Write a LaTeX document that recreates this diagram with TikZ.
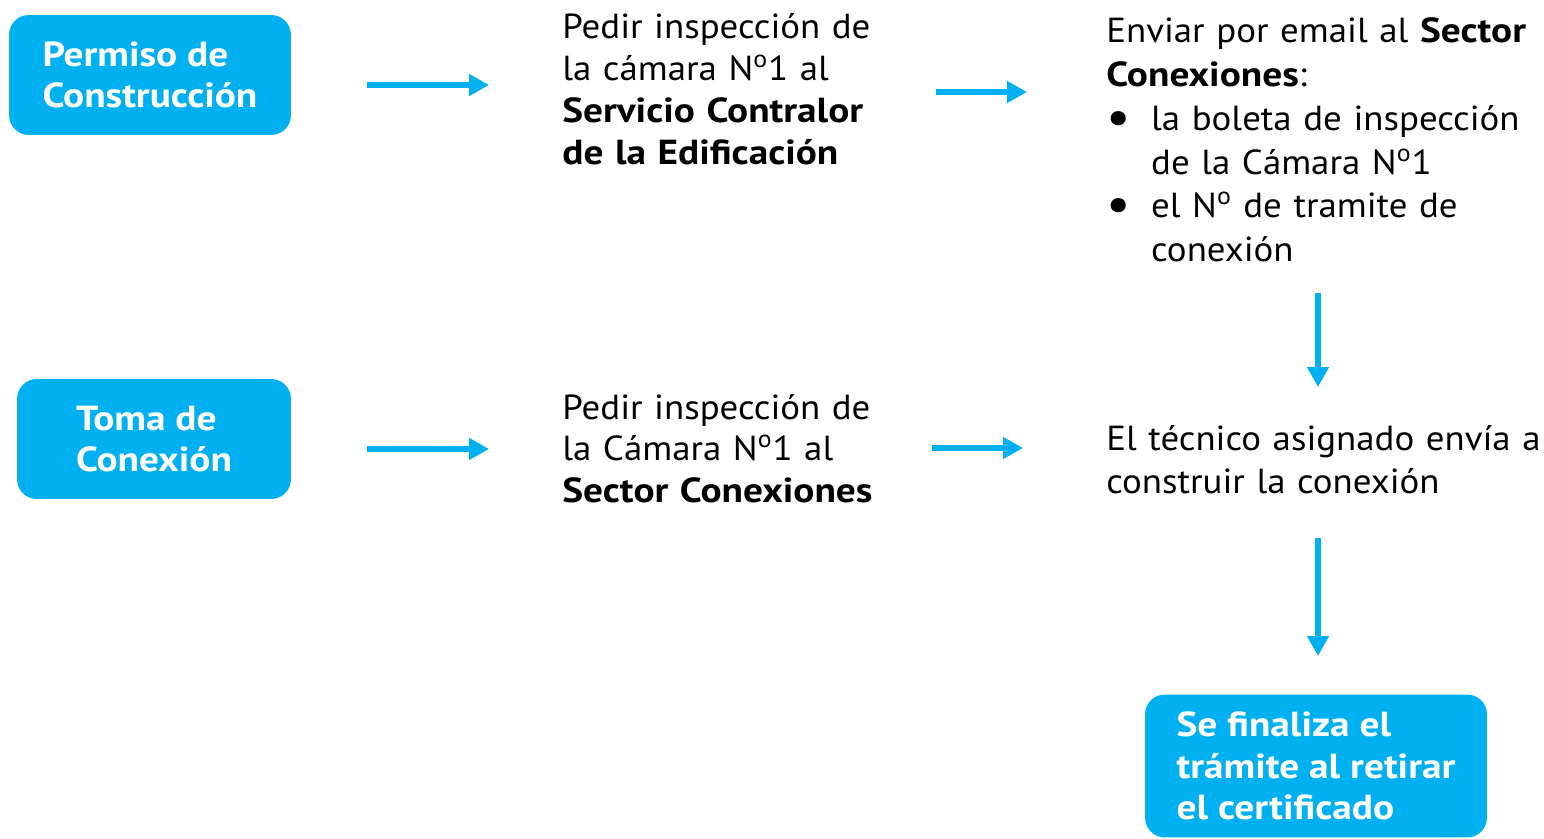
\documentclass[tikz,border=0pt]{standalone}
\usepackage{fontspec}
\setmainfont{PT Sans}[
    UprightFeatures={FakeStretch=1.06},
    BoldFeatures={FakeStretch=1.13}
]
\usetikzlibrary{arrows.meta}
\definecolor{celeste}{HTML}{00B0F0}
\newcommand{\vineta}{\makebox[25.5pt][l]{\raisebox{-2.2pt}{\fontsize{29}{0}\selectfont\textbullet}}}
\newcommand{\nro}{N\textsuperscript{o}}

\begin{document}
\begin{tikzpicture}[
        x=0.02cm, y=-0.02cm,
        caja/.style={
            fill=celeste,
            text=white,
            rounded corners=11.3pt,
            align=left,
            inner sep=0pt,
            font=\bfseries\fontsize{19.8}{23.6}\selectfont
        },
        texto/.style={
            anchor=base west,
            inner sep=0pt,
            text width=9cm,
            align=left,
            font=\fontsize{19.8}{23.8}\selectfont
        },
        flecha/.style={
            draw=celeste,
            line width=3.7pt,
            -{Triangle[length=11.3pt, width=11.8pt]}
        }
    ]
        \useasboundingbox (0,0) rectangle (1544,838);

        \node[caja, minimum width=5.64cm, minimum height=2.4cm] (permiso) at (150,75) {Permiso de\\Construcción};
        \node[caja, minimum width=5.48cm, minimum height=2.4cm] (toma) at (154,439) {Toma de\\Conexión};
        \node[caja, minimum width=6.84cm, minimum height=2.86cm] (finaliza) at (1316,766) {Se finaliza el\\trámite al retirar\\el certificado};

        \node[texto] (pedir1) at (562,39) {Pedir inspección de\\la cámara \nro1 al\\\textbf{Servicio Contralor}\\\textbf{de la Edificación}};
        \node[texto] (pedir2) at (562,419) {Pedir inspección de\\la Cámara \nro1 al\\\textbf{Sector Conexiones}};
        \node[texto, font=\fontsize{19.8}{24.9}\selectfont] (enviar) at (1106,43) {Enviar por email al \textbf{Sector}\\\textbf{Conexiones}:\\\vineta la boleta de inspección\\\hspace*{25.5pt}de la Cámara \nro1\\\vineta el \nro{} de tramite de\\\hspace*{25.5pt}conexión};
        \node[texto, font=\fontsize{19.8}{24.9}\selectfont] (tecnico) at (1106,450) {El técnico asignado envía a\\construir la conexión};

        \coordinate (f1a) at (367,85);   \coordinate (f1b) at (489,85);
        \coordinate (f2a) at (936,92);   \coordinate (f2b) at (1027,92);
        \coordinate (f3a) at (367,449);  \coordinate (f3b) at (489,449);
        \coordinate (f4a) at (932,448);  \coordinate (f4b) at (1023,448);
        \coordinate (f5a) at (1318,293); \coordinate (f5b) at (1318,387);
        \coordinate (f6a) at (1318,538); \coordinate (f6b) at (1318,656);

        \foreach \a/\b in {f1a/f1b, f2a/f2b, f3a/f3b, f4a/f4b, f5a/f5b, f6a/f6b} {
            \draw[flecha] (\a) -- (\b);
        }
    \end{tikzpicture}
\end{document}
